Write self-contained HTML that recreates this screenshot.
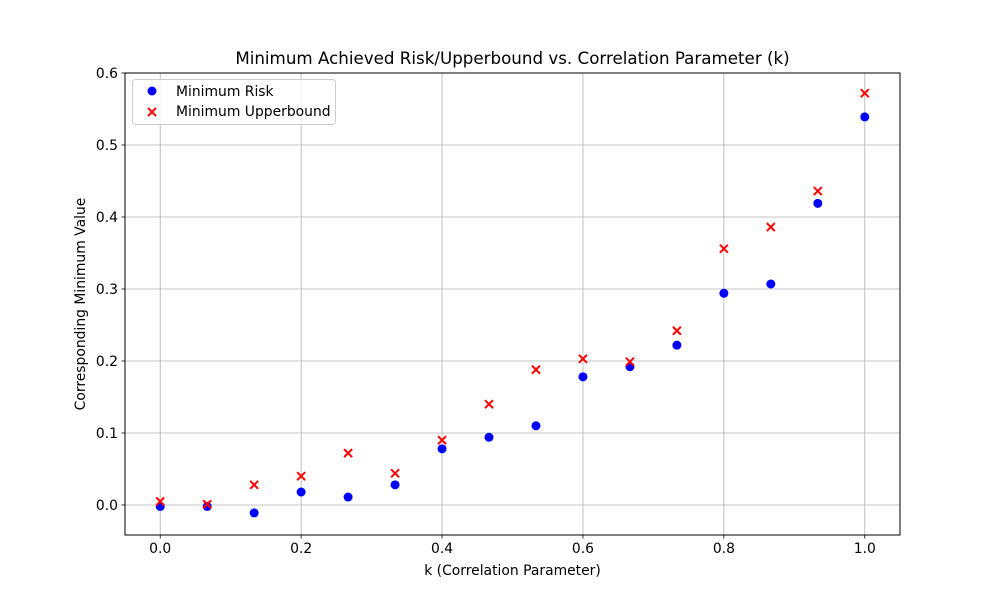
<!DOCTYPE html>
<html><head><meta charset="utf-8"><style>
body{margin:0;background:#fff;}
svg text{font-family:"DejaVu Sans","Liberation Sans",sans-serif;fill:#000;}
</style></head><body>
<svg id="chart" width="1000" height="600" xmlns="http://www.w3.org/2000/svg">
<rect width="1000" height="600" fill="#fff"/>
<g id="grid"></g><g id="marks"></g><g id="axes"></g>
</svg>
<script>
const kValues=[0,1/15,2/15,3/15,4/15,5/15,6/15,7/15,8/15,9/15,10/15,11/15,12/15,13/15,14/15,1];
const riskValues=[-0.002,-0.002,-0.011,0.018,0.011,0.028,0.078,0.094,0.110,0.178,0.192,0.222,0.294,0.307,0.419,0.539];
const upperValues=[0.005,0.001,0.028,0.040,0.072,0.044,0.090,0.140,0.188,0.203,0.199,0.242,0.356,0.386,0.436,0.572];
const xTicks=[0,0.2,0.4,0.6,0.8,1.0];
const xTickLabels=["0.0","0.2","0.4","0.6","0.8","1.0"];
const yTicks=[0,0.1,0.2,0.3,0.4,0.5,0.6];
const yTickLabels=["0.0","0.1","0.2","0.3","0.4","0.5","0.6"];

const L=125,R=900,T=73,B=535;
const xmin=-0.05,xmax=1.05,ymin=-0.0417,ymax=0.6;
const sx=v=>L+(v-xmin)/(xmax-xmin)*(R-L);
const sy=v=>B-(v-ymin)/(ymax-ymin)*(B-T);
const NS="http://www.w3.org/2000/svg";
function mk(tag,attrs,parent,text){const e=document.createElementNS(NS,tag);for(const k in attrs)e.setAttribute(k,attrs[k]);if(text!==undefined)e.textContent=text;parent.appendChild(e);return e;}
const grid=document.getElementById('grid'),marks=document.getElementById('marks'),axes=document.getElementById('axes');

xTicks.forEach((t,i)=>{
 const x=sx(t);
 const g=mk('line',{x1:x,x2:x,y1:T,y2:B,stroke:'#b0b0b0','stroke-width':0.8},grid);
 
 
 const tk=mk('line',{x1:x,x2:x,y1:B,y2:B+3.5,stroke:'#000','stroke-width':0.8},axes);
 
 
 const lb=mk('text',{x:x,y:B+18,'font-size':13.9,'text-anchor':'middle'},axes,xTickLabels[i]);
 
 
});
yTicks.forEach((t,i)=>{
 const y=sy(t);
 const g=mk('line',{x1:L,x2:R,y1:y,y2:y,stroke:'#b0b0b0','stroke-width':0.8},grid);
 
 
 const tk=mk('line',{x1:L-3.5,x2:L,y1:y,y2:y,stroke:'#000','stroke-width':0.8},axes);
 
 
 const lb=mk('text',{x:L-7,y:y+5,'font-size':13.9,'text-anchor':'end'},axes,yTickLabels[i]);
 
 
});
const frame=mk('rect',{x:L,y:T,width:R-L,height:B-T,fill:'none',stroke:'#000','stroke-width':1},axes);



kValues.forEach((k,i)=>{
 const c=mk('circle',{cx:sx(k),cy:sy(riskValues[i]),r:4.5,fill:'#0000ff'},marks);
 
 
});
function cross(x,y,parent){
 const g=mk('g',{},parent);
 mk('path',{d:`M${x-4},${y-4}L${x+4},${y+4}M${x-4},${y+4}L${x+4},${y-4}`,stroke:'#ff0000','stroke-width':2},g);
 return g;
}
kValues.forEach((k,i)=>{
 const g=cross(sx(k),sy(upperValues[i]),marks);
 
 
});

const title=mk('text',{x:(L+R)/2,y:64,'font-size':16.7,'text-anchor':'middle'},axes,'Minimum Achieved Risk/Upperbound vs. Correlation Parameter (k)');


const xt=mk('text',{x:(L+R)/2,y:575,'font-size':13.9,'text-anchor':'middle'},axes,'k (Correlation Parameter)');


const yt=mk('text',{x:0,y:0,'font-size':13.9,'text-anchor':'middle',transform:`translate(85,${(T+B)/2}) rotate(-90)`},axes,'Corresponding Minimum Value');



const leg=mk('g',{},axes);


mk('rect',{x:132.5,y:79.5,width:203,height:45,rx:3,fill:'#fff','fill-opacity':0.8,stroke:'#ccc'},leg);
const e1=mk('g',{},leg);


mk('circle',{cx:152,cy:91,r:4.5,fill:'#0000ff'},e1);
mk('text',{x:176,y:96,'font-size':13.9},e1,'Minimum Risk');
const e2=mk('g',{},leg);


cross(152,112,e2);
mk('text',{x:176,y:116,'font-size':13.9},e2,'Minimum Upperbound');
</script>
</body></html>
